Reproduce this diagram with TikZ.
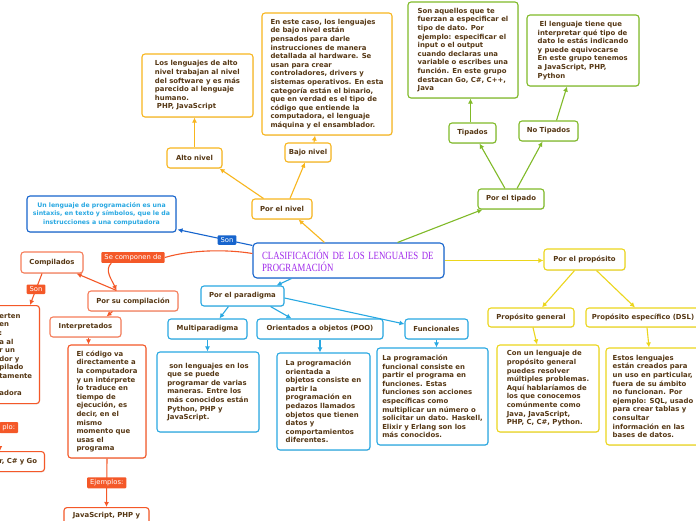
\documentclass[tikz,border=0pt]{standalone}
\usepackage{fontspec}
\setmainfont{DejaVu Sans}
\newfontfamily\titlefont{Liberation Serif}[FakeStretch=0.80]
\usetikzlibrary{calc,arrows.meta,shadows}
\definecolor{txt}{RGB}{85,55,20}
\definecolor{orn}{RGB}{248,182,30}
\definecolor{grn}{RGB}{128,186,40}
\definecolor{ylw}{RGB}{236,214,28}
\definecolor{ltblue}{RGB}{40,168,226}
\definecolor{dkblue}{RGB}{22,100,205}
\definecolor{rorg}{RGB}{244,88,40}
\definecolor{rbord}{RGB}{246,125,90}
\definecolor{ttl}{RGB}{160,40,235}
\newcommand\fs{\bfseries\fontsize{6.9}{8.6}\selectfont}
\newcommand\fd{\bfseries\fontsize{6.2}{8.8}\selectfont}
\newcommand\fl{\fontsize{6.8}{8}\selectfont}
\tikzset{
  bx/.style={draw, fill=white, rounded corners=3pt, line width=1.1pt, inner sep=0pt, text=txt, font=\fs, align=center,
    drop shadow={shadow xshift=0.6pt, shadow yshift=-0.8pt, opacity=0.18}},
  tbx/.style={bx, align=left},
  conn/.style={line width=1.1pt, -{Latex[length=5pt,width=5pt]}},
  tag/.style={fill=#1, text=white, font=\fl, inner xsep=3pt, inner ysep=2.2pt, rounded corners=1pt},
}
\begin{document}
\begin{tikzpicture}[x=1pt,y=-1pt]
\clip (0,0) rectangle (696,520);
\fill[white] (0,0) rectangle (696,520);

% center
\node[bx, draw=dkblue, rounded corners=4pt, minimum width=191pt, minimum height=35pt, text width=173pt, align=left,
  font=\titlefont\fontsize{11}{12}\selectfont, text=ttl] (center) at (348.5,260.5) {CLASIFICACIÓN DE LOS LENGUAJES DE\\PROGRAMACIÓN};
\node[bx, draw=dkblue, text=ltblue, font=\fd, minimum width=149pt, minimum height=36pt] (def) at (101.5,214)
  {Un lenguaje de programación es una\\sintaxis, en texto y símbolos, que le da\\instrucciones a una computadora};

% nivel (orange)
\node[bx, draw=orn, minimum width=60pt, minimum height=20pt] (nivel) at (282,209) {Por el nivel};
\node[bx, draw=orn, minimum width=55pt, minimum height=20pt] (alto) at (194.5,158) {Alto nivel};
\node[bx, draw=orn, minimum width=46pt, minimum height=19pt] (bajo) at (308,152.5) {Bajo nivel};
\node[tbx, draw=orn, minimum width=111pt, minimum height=63pt] (altot) at (197.5,85.5)
  {Los lenguajes de alto\\nivel trabajan al nivel\\del software y es más\\parecido al lenguaje\\humano.\\\hspace*{2pt}PHP, JavaScript};
\node[tbx, draw=orn, minimum width=130pt, minimum height=122pt] (bajot) at (327,74)
  {En este caso, los lenguajes\\de bajo nivel están\\pensados para darle\\instrucciones de manera\\detallada al hardware. Se\\usan para crear\\controladores, drivers y\\sistemas operativos. En esta\\categoría están el binario,\\que en verdad es el tipo de\\código que entiende la\\computadora, el lenguaje\\máquina y el ensamblador.};

% tipado (green)
\node[bx, draw=grn, minimum width=66pt, minimum height=20pt] (tipado) at (511,199) {Por el tipado};
\node[bx, draw=grn, minimum width=47pt, minimum height=20pt] (tip) at (472.5,133) {Tipados};
\node[bx, draw=grn, minimum width=59pt, minimum height=20pt] (notip) at (548.5,131) {No Tipados};
\node[tbx, draw=grn, minimum width=110pt, minimum height=96pt] (tipt) at (463,50)
  {Son aquellos que te\\fuerzan a especificar el\\tipo de dato. Por\\ejemplo: especificar el\\input o el output\\cuando declaras una\\variable o escribes una\\función. En este grupo\\destacan Go, C\#, C++,\\Java};
\node[tbx, draw=grn, minimum width=112pt, minimum height=71pt] (notipt) at (583,50.5)
  {\hspace*{2pt}El lenguaje tiene que\\interpretar qué tipo de\\dato le estás indicando\\y puede equivocarse\\En este grupo tenemos\\a JavaScript, PHP,\\Python};

% proposito (yellow)
\node[bx, draw=ylw, minimum width=81pt, minimum height=21pt] (prop) at (584.5,259.5) {Por el propósito};
\node[bx, draw=ylw, minimum width=86pt, minimum height=19pt] (pg) at (531,317.5) {Propósito general};
\node[bx, draw=ylw, minimum width=114pt, minimum height=19pt] (dsl) at (643,317.5) {Propósito específico (DSL)};
\node[tbx, draw=ylw, minimum width=102pt, minimum height=87pt] (pgt) at (548,388.5)
  {Con un lenguaje de\\propósito general\\puedes resolver\\múltiples problemas.\\Aquí hablaríamos de\\los que conocemos\\comúnmente como\\Java, JavaScript,\\PHP, C, C\#, Python.};
\node[tbx, draw=ylw, minimum width=94pt, minimum height=97pt] (dslt) at (653,396.5)
  {Estos lenguajes\\están creados para\\un uso en particular,\\fuera de su ámbito\\no funcionan. Por\\ejemplo: SQL, usado\\para crear tablas y\\consultar\\información en las\\bases de datos.};

% paradigma (light blue)
\node[bx, draw=ltblue, minimum width=83pt, minimum height=20pt] (par) at (242.5,296) {Por el paradigma};
\node[bx, draw=ltblue, minimum width=79pt, minimum height=20pt] (multi) at (207.5,329) {Multiparadigma};
\node[bx, draw=ltblue, minimum width=126pt, minimum height=20pt] (poo) at (320,329) {Orientados a objetos (POO)};
\node[bx, draw=ltblue, minimum width=63pt, minimum height=20pt] (func) at (436.5,329) {Funcionales};
\node[tbx, draw=ltblue, minimum width=102pt, minimum height=80pt] (multit) at (208,392)
  {\hspace*{2pt}son lenguajes en los\\que se puede\\programar de varias\\maneras. Entre los\\más conocidos están\\Python, PHP y\\JavaScript.};
\node[tbx, draw=ltblue, minimum width=93pt, minimum height=97pt] (poot) at (323.5,401.5)
  {La programación\\orientada a\\objetos consiste en\\partir la\\programación en\\pedazos llamados\\objetos que tienen\\datos y\\comportamientos\\diferentes.};
\node[tbx, draw=ltblue, minimum width=111pt, minimum height=97pt] (funct) at (432.5,396.5)
  {La programación\\funcional consiste en\\partir el programa en\\funciones. Estas\\funciones son acciones\\específicas como\\multiplicar un número o\\solicitar un dato. Haskell,\\Elixir y Erlang son los\\más conocidos.};

% compilacion (red-orange)
\node[bx, draw=rbord, minimum width=90pt, minimum height=20pt] (comp) at (133,301) {Por su compilación};
\node[bx, draw=rbord, minimum width=62pt, minimum height=21pt] (compl) at (52,262.5) {Compilados};
\node[bx, draw=rbord, minimum width=71pt, minimum height=20pt] (interp) at (85.5,327) {Interpretados};
\node[tbx, draw=rorg, minimum width=78pt, minimum height=113pt] (interpt) at (107,401.5)
  {El código va\\directamente a\\la computadora\\y un intérprete\\lo traduce en\\tiempo de\\ejecución, es\\decir, en el\\mismo\\momento que\\usas el\\programa};
\node[tbx, draw=rorg, anchor=north east, text width=34pt, inner xsep=6pt, minimum height=98pt] (compt) at (40,305)
  {erten\\en\\:\\a al\\r un\\dor y\\pilado\\tamente\\\mbox{}\\adora};
\node[tbx, draw=rorg, anchor=north east, text width=40pt, inner xsep=5pt, minimum height=20pt] (gobox) at (45,451) {r, C\# y Go};
\node[tbx, draw=rorg, anchor=north, minimum width=85pt, inner ysep=5pt] (jsbox) at (106.5,507) {JavaScript, PHP y};
\node[tag=rorg] (sc) at (133,257.5) {Se componen de};

% connectors
\draw[conn, dkblue] ($(center.north west)+(0,3)$) -- node[tag=dkblue, pos=0.34]{Son} ($(def.south east)+(1,-3)$);

\draw[conn, orn] ($(center.north west)+(72,0)$) -- ($(nivel.south east)+(-14,0)$);
\draw[conn, orn] ($(nivel.north west)+(12,0)$) -- ($(alto.south east)+(-3,0)$);
\draw[conn, orn] ($(nivel.north)+(8,0)$) -- ($(bajo.south)+(-3,0)$);
\draw[conn, orn] (alto.north) -- (alto.north |- altot.south);
\draw[conn, orn] ($(bajo.north)+(6,0)$) -- ($(bajot.south)+(-12,0)$);

\draw[conn, grn] ($(center.north east)+(-47,0)$) -- ($(tipado.south west)+(5,0)$);
\draw[conn, grn] ($(tipado.north)+(-6,0)$) -- ($(tip.south)+(7,0)$);
\draw[conn, grn] ($(tipado.north)+(6,0)$) -- ($(notip.south)+(-6,0)$);
\draw[conn, grn] ($(tip.north)+(-2,0)$) -- ($(tipt.south)+(7.5,0)$);
\draw[conn, grn] ($(notip.north)+(8,0)$) -- ($(notipt.south)+(-16,0)$);

\draw[conn, ylw] (center.east) -- (center.east -| prop.west);
\draw[conn, ylw] ($(prop.south)+(-10,0)$) -- ($(pg.north)+(11,0)$);
\draw[conn, ylw] ($(prop.south)+(12,0)$) -- ($(dsl.north)+(-8,0)$);
\draw[conn, ylw] ($(pg.south)+(2,0)$) -- ($(pgt.north)+(-11,0)$);
\draw[conn, ylw] ($(dsl.south)+(4,0)$) -- ($(dslt.north)+(-4,0)$);

\draw[conn, ltblue] ($(center.south west)+(39,0)$) -- ($(par.north east)+(-8,0)$);
\draw[conn, ltblue] ($(par.south west)+(28,0)$) -- ($(multi.north)+(12,0)$);
\draw[conn, ltblue] ($(par.south east)+(-14,0)$) -- ($(poo.north west)+(35,0)$);
\draw[conn, ltblue] ($(par.east)+(0,2)$) -- ($(func.west)+(0,-5)$);
\draw[conn, ltblue] (multi.south) -- (multi.south |- multit.north);
\draw[conn, ltblue] (poo.south) -- (poo.south |- poot.north);
\draw[conn, ltblue] (func.south) -- (func.south |- funct.north);

\draw[line width=1.1pt, rorg] ($(center.west)+(0,-7)$) .. controls (225,249) and (190,250) .. (sc.east);
\draw[conn, rorg] ($(sc.south west)+(10,0)$) .. controls (104,270) and (112,280) .. ($(comp.north west)+(29,0)$);
\draw[conn, rorg] ($(comp.north west)+(29,0)$) -- ($(compl.south east)+(-7,0)$);
\draw[conn, rorg] ($(comp.south west)+(25,0)$) -- ($(interp.north east)+(-15,0)$);
\draw[conn, rorg] ($(compl.south)+(-10,0)$) -- node[tag=rorg, pos=0.5]{Son} ($(compt.north east)+(-10,0)$);
\draw[conn, rorg] ($(interp.south)+(3,0)$) -- ($(interpt.north)+(-18.5,0)$);
\draw[conn, rorg] (interpt.south) -- node[tag=rorg]{Ejemplos:} (jsbox.north);
\draw[conn, rorg] ($(compt.south west)+(7,0)$) -- node[tag=rorg, anchor=west, xshift=-1pt]{plo:} ($(gobox.north west)+(6,0)$);
\end{tikzpicture}
\end{document}
